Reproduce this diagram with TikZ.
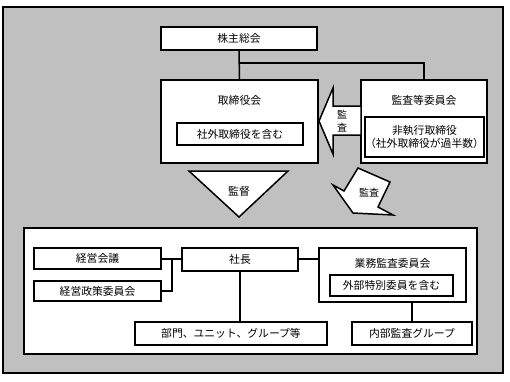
\documentclass[tikz,border=0pt]{standalone}
\usepackage{fontspec}
\setmainfont{Noto Sans CJK JP}

\begin{document}
\begin{tikzpicture}[x=1pt, y=-1pt,
    box/.style={draw=borderColour, fill=white, line width=1.5pt, inner sep=0pt, font=\fontsize{10.8}{13}\selectfont},
    lbl/.style={inner sep=0pt, font=\fontsize{10.8}{13}\selectfont},
    link/.style={draw=borderColour, line width=1.5pt},
    bigarrow/.style={draw=borderColour, fill=white, line width=1.5pt, line join=miter}]
    \definecolor{borderColour}{HTML}{000000}
    \definecolor{fillColourBack}{HTML}{C0C0C0}

    % Page and grey frame
    \useasboundingbox (0,0) rectangle (510,381);
    \fill[white] (0,0) rectangle (510,381);
    \filldraw[fill=fillColourBack, draw=borderColour, line width=1.8pt] (3,7) rectangle (503,373);

    % Shareholders and board
    \node[box, minimum width=156, minimum height=23] (soukai) at (239,38.5) {株主総会};
    \node[box, minimum width=157, minimum height=83] (board) at (239.5,121.5) {};
    \node[lbl] (boardTitle) at (239.5,100) {取締役会};
    \node[box, minimum width=126, minimum height=22] (outside) at (240,134) {社外取締役を含む};

    % Audit committee
    \node[box, minimum width=126, minimum height=83] (audit) at (424,121.5) {};
    \node[lbl] (auditTitle) at (424,100) {監査等委員会};
    \node[box, minimum width=117, minimum height=40, align=center] (nonexec) at (424.5,137) {非執行取締役\\（社外取締役が過半数）};

    % Links from shareholders
    \coordinate (split) at (239,63);
    \draw[link] (soukai.south) -- (board.north);
    \draw[link] (split) -| (audit.north);

    % Arrows between the blocks
    \draw[bigarrow] (319,121) -- (333,88) -- (333,106) -- (361,106) -- (361,135) -- (333,135) -- (333,154) -- cycle;
    \node[lbl, align=center, font=\fontsize{10}{13}\selectfont] (auditA) at (342,121) {監\\査};
    \draw[bigarrow] (189,171) -- (288,171) -- (239,217) -- cycle;
    \node[lbl] (supervise) at (239,191) {監督};
    \draw[bigarrow] (358,168) -- (390,182) -- (378,207) -- (393,215) -- (353,213) -- (333,185) -- (344,191) -- cycle;
    \node[lbl, font=\fontsize{10}{12}\selectfont] (auditB) at (369,193) {監査};

    % Executive block
    \filldraw[fill=white, draw=borderColour, line width=1.5pt] (24,228) rectangle (477,354);
    \node[box, minimum width=127, minimum height=21] (keiei) at (97.5,258.5) {経営会議};
    \node[box, minimum width=127, minimum height=20] (seisaku) at (97.5,291) {経営政策委員会};
    \node[box, minimum width=116, minimum height=23] (president) at (240,259.5) {社長};
    \node[box, minimum width=147, minimum height=54] (gyomu) at (392.5,275) {};
    \node[lbl] (gyomuTitle) at (392.5,263) {業務監査委員会};
    \node[box, minimum width=123, minimum height=21] (gaibu) at (391.5,285.5) {外部特別委員を含む};
    \node[box, minimum width=192, minimum height=23] (bumon) at (231,333.5) {部門、ユニット、グループ等};
    \node[box, minimum width=120, minimum height=23] (naibu) at (412,333.5) {内部監査グループ};

    % Links in executive block
    \coordinate (join) at (172,259);
    \draw[link] (keiei.east |- join) -- (president.west |- join);
    \draw[link] (seisaku.east) -| (join);
    \draw[link] (president.east |- join) -- (gyomu.west |- join);
    \draw[link] (president.south) -- (president.south |- bumon.north);
    \draw[link] (naibu.north |- gyomu.south) -- (naibu.north);

\end{tikzpicture}
\end{document}
